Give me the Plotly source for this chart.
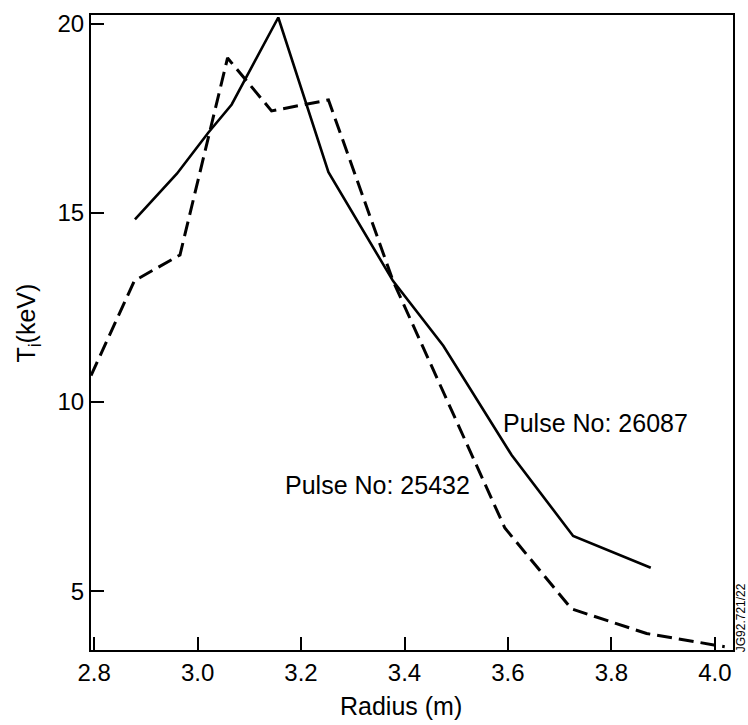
import plotly.graph_objects as go

# Pulse No: 26087 (solid)
solid_r = [2.879, 2.960, 3.021, 3.066, 3.156, 3.253, 3.378, 3.475, 3.607, 3.726, 3.876]
solid_t = [14.83, 16.04, 17.13, 17.87, 20.17, 16.08, 13.20, 11.49, 8.60, 6.46, 5.62]

# Pulse No: 25432 (dashed)
dash_r = [2.794, 2.878, 2.966, 3.058, 3.143, 3.253, 3.378, 3.594, 3.723, 3.868, 4.019]
dash_t = [10.70, 13.21, 13.89, 19.10, 17.70, 17.99, 13.20, 6.67, 4.53, 3.88, 3.53]

x_ticks = [2.8, 3.0, 3.2, 3.4, 3.6, 3.8, 4.0]
x_ticklabels = ["2.8", "3.0", "3.2", "3.4", "3.6", "3.8", "4.0"]
y_ticks = [5, 10, 15, 20]
y_ticklabels = ["5", "10", "15", "20"]

label_26087 = "Pulse No: 26087"
label_25432 = "Pulse No: 25432"
x_title = "Radius (m)"
y_title = "T<sub>i</sub>(keV)"
ref_code = "JG92.721/22"

FONT = "Liberation Sans, Arial, Helvetica, sans-serif"

fig = go.Figure()
fig.add_trace(go.Scatter(x=solid_r, y=solid_t, mode="lines",
                         line=dict(color="black", width=2.6),
                         showlegend=False, hoverinfo="skip"))
fig.add_trace(go.Scatter(x=dash_r, y=dash_t, mode="lines",
                         line=dict(color="black", width=3, dash="15px,7px"),
                         showlegend=False, hoverinfo="skip"))

axis_common = dict(showgrid=False, zeroline=False, showline=True, mirror=True,
                   linecolor="black", linewidth=2, ticks="inside", ticklen=13,
                   tickwidth=2, tickcolor="black",
                   tickfont=dict(family=FONT, size=24, color="black"))

fig.update_xaxes(range=[2.794, 4.035], tickvals=x_ticks, ticktext=x_ticklabels,
                 **axis_common)
fig.update_yaxes(range=[3.444, 20.236], tickvals=y_ticks, ticktext=y_ticklabels,
                 **axis_common)

annots = [
    dict(x=3.769, y=9.45, xref="x", yref="y", text=label_26087, showarrow=False,
         xanchor="center", yanchor="middle", font=dict(family=FONT, size=25, color="black")),
    dict(x=3.347, y=7.82, xref="x", yref="y", text=label_25432, showarrow=False,
         xanchor="center", yanchor="middle", font=dict(family=FONT, size=25, color="black")),
    dict(x=(401 - 91) / 642, y=(650 - 706) / 640, xref="paper", yref="paper", text=x_title,
         showarrow=False, xanchor="center", yanchor="middle",
         font=dict(family=FONT, size=25, color="black")),
    dict(x=(28 - 91) / 642, y=(650 - 321) / 640, xref="paper", yref="paper", text=y_title,
         showarrow=False, xanchor="center", yanchor="middle", textangle=-90,
         font=dict(family=FONT, size=25, color="black")),
    dict(x=(741 - 91) / 642, y=(650 - 618) / 640, xref="paper", yref="paper", text=ref_code,
         showarrow=False, xanchor="center", yanchor="middle", textangle=-90,
         font=dict(family=FONT, size=12, color="black")),
]

fig.update_layout(width=748, height=725,
                  margin=dict(l=91, r=15, t=10, b=75, pad=0),
                  paper_bgcolor="white", plot_bgcolor="white",
                  annotations=annots)

fig.write_html("out.html")
